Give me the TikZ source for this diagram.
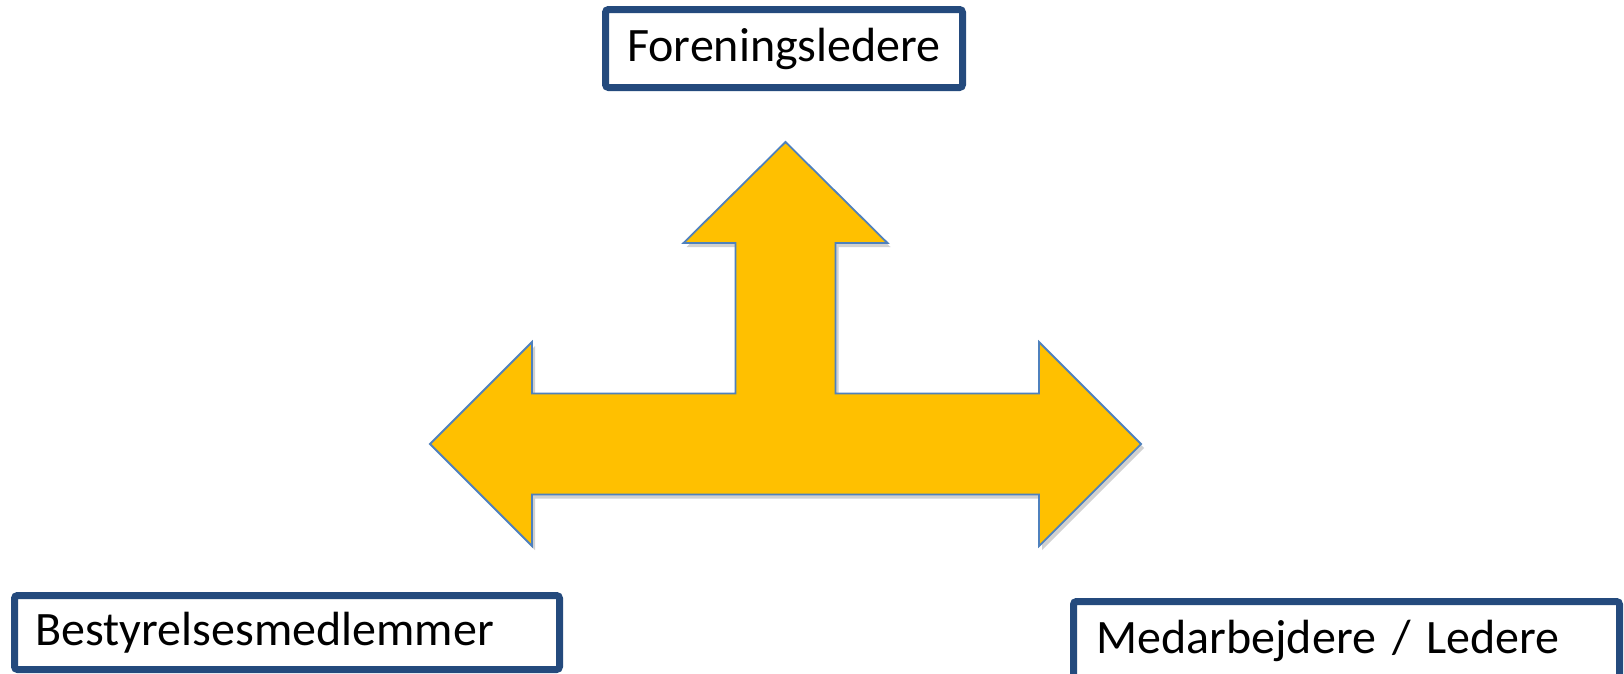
\documentclass[tikz,border=0pt]{standalone}
\usepackage{fontspec}
\setmainfont{Carlito}
\definecolor{boxblue}{RGB}{36,74,125}
\definecolor{arrowgold}{RGB}{255,192,0}
\definecolor{arrowline}{RGB}{79,129,189}
\begin{document}
\begin{tikzpicture}[x=1pt,y=-1pt,
  labelbox/.style={draw=boxblue, line width=7pt, rounded corners=3pt, fill=white,
    font=\fontsize{48}{57}\selectfont, inner sep=0pt},
  leftbox/.style={labelbox, align=left, inner xsep=21.5pt},
  arrowshape/.style={fill=arrowgold, draw=arrowline, line width=1.8pt, line join=miter}]
\useasboundingbox (0,0) rectangle (1624,673);
\fill[white] (0,0) rectangle (1624,673);
% shadow of the arrow
\fill[black, opacity=0.18, shift={(3pt,-4pt)}]
  (785.5,142) -- (887.5,243) -- (835.5,243) -- (835.5,393.5) -- (1039,393.5)
  -- (1039,342) -- (1141,444) -- (1039,546) -- (1039,494.5) -- (532,494.5)
  -- (532,546) -- (430,444) -- (532,342) -- (532,393.5) -- (735.5,393.5)
  -- (735.5,243) -- (683.5,243) -- cycle;
% three-way arrow
\draw[arrowshape]
  (785.5,142) -- (887.5,243) -- (835.5,243) -- (835.5,393.5) -- (1039,393.5)
  -- (1039,342) -- (1141,444) -- (1039,546) -- (1039,494.5) -- (532,494.5)
  -- (532,546) -- (430,444) -- (532,342) -- (532,393.5) -- (735.5,393.5)
  -- (735.5,243) -- (683.5,243) -- cycle;
% labels
\node[labelbox, minimum width=357pt, minimum height=78pt] (fl) at (784,48.5) {Foreningsledere};
\node[leftbox, inner xsep=21pt, text width=503pt, minimum height=74pt] (bm) at (287,632.5) {Bestyrelsesmedlemmer};
\node[leftbox, inner xsep=23pt, text width=500pt, minimum height=79pt] (ml) at (1346.5,641) {Medarbejdere / Ledere};
\end{tikzpicture}
\end{document}
